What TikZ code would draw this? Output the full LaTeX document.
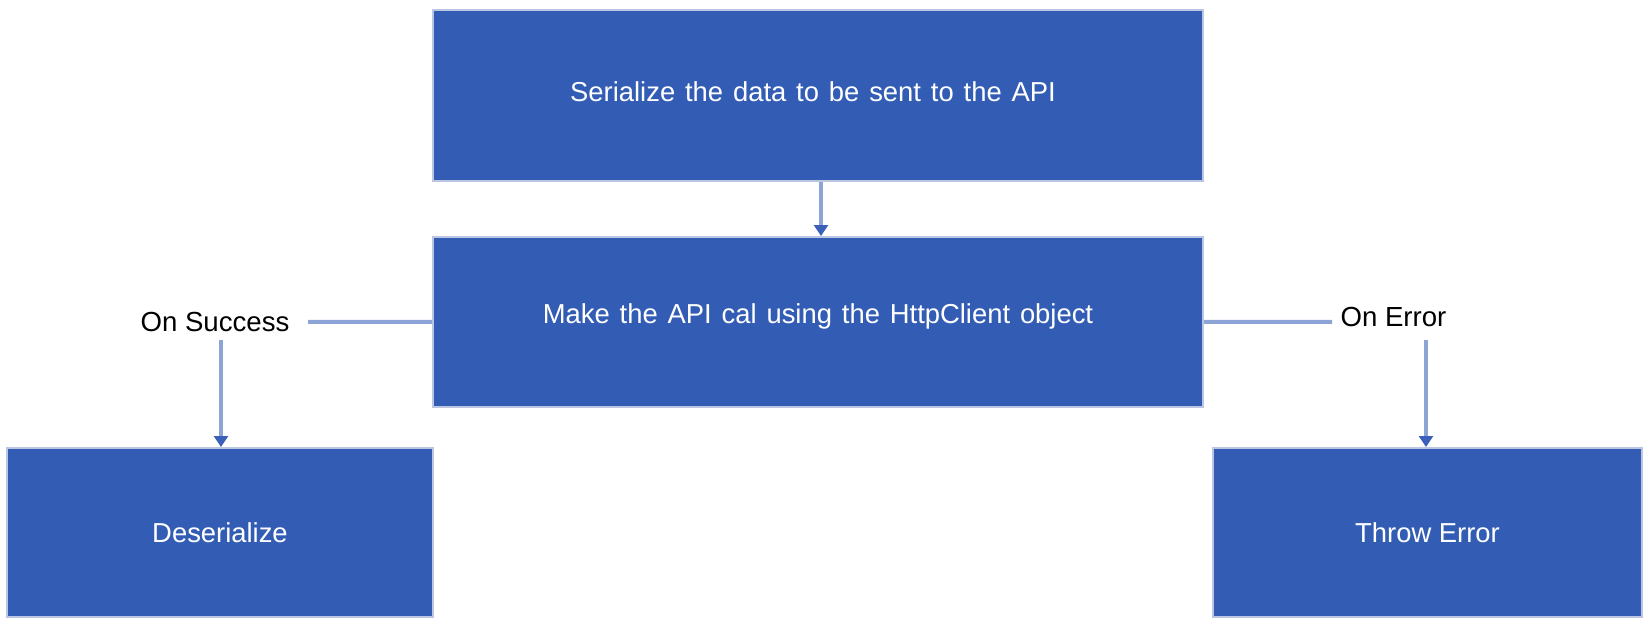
\documentclass[tikz,border=0pt]{standalone}
\usepackage{fontspec}
\setmainfont{Liberation Sans}
\usetikzlibrary{arrows.meta}
\definecolor{boxfill}{HTML}{335DB5}
\definecolor{boxline}{HTML}{BCC6E2}
\definecolor{conn}{HTML}{8DA4D6}
\definecolor{tipc}{HTML}{3A60BA}
\newcommand{\widespc}{\spaceskip=0.36em plus 0.1em\relax}
\begin{document}
\begin{tikzpicture}[x=0.5pt,y=-0.5pt,
  blk/.style={draw=boxline,line width=1pt,fill=boxfill,text=white,inner sep=0pt,font=\fontsize{13.7}{16}\selectfont},
  btxt/.style={text=white,inner sep=0pt,font=\fontsize{13.7}{16}\selectfont\widespc},
  lbl/.style={text=black,inner sep=1pt,font=\fontsize{13.8}{16}\selectfont},
  conline/.style={draw=conn,line width=2pt},
  arr/.style={draw=conn,line width=2pt,-{Triangle[width=7pt,length=5.5pt,color=tipc]}}]
\useasboundingbox (0,0) rectangle (1650,626);
\node[blk,minimum width=385pt,minimum height=85.5pt] (top) at (818,96) {};
\node[btxt] (toptxt) at (813,92) {Serialize the data to be sent to the API};
\node[blk,minimum width=385pt,minimum height=84.75pt] (mid) at (818,321.75) {};
\node[btxt] (midtxt) at (818,316) {Make the API cal using the HttpClient object};
\node[blk,minimum width=213pt,minimum height=84.5pt] (left) at (220,532.5) {Deserialize};
\node[blk,minimum width=214.5pt,minimum height=84.5pt] (right) at (1427.5,532.5) {Throw Error};
\node[lbl] (succ) at (215,322) {On Success};
\node[lbl] (err) at (1393.5,317) {On Error};
\coordinate (sA) at (308,322);
\coordinate (eA) at (1332,322);
\coordinate (sB) at (221,340);
\coordinate (eB) at (1426,340);
\draw[arr] (top.south -| 821,0) -- (mid.north -| 821,0);
\draw[conline] (mid.west) -- (sA);
\draw[conline] (mid.east) -- (eA);
\draw[arr] (sB) -- (sB |- left.north);
\draw[arr] (eB) -- (eB |- right.north);
\end{tikzpicture}
\end{document}
